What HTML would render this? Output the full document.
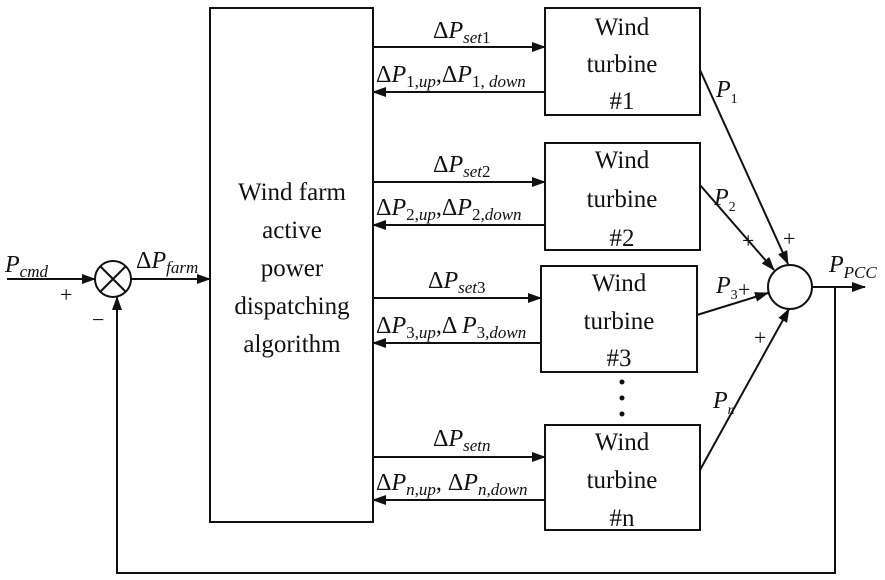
<!DOCTYPE html>
<html><head><style>body{margin:0;background:#fff}svg{display:block}
text{font-family:"Liberation Serif",serif;fill:#111}
.b{font-size:25px}.l{font-size:24px}.s{font-size:17px}.p{font-size:22px}</style></head><body>
<svg width="885" height="580" viewBox="0 0 885 580" xmlns="http://www.w3.org/2000/svg">
<defs><marker id="a" markerWidth="14" markerHeight="10" refX="13" refY="5" orient="auto" markerUnits="userSpaceOnUse"><path d="M0,0 L14,5 L0,10 Z" fill="#111"/></marker></defs>
<g stroke="#111" stroke-width="2" fill="none">
<rect x="210" y="8" width="163" height="514"/>
<rect x="545" y="8" width="155" height="107"/>
<rect x="545" y="143" width="155" height="107"/>
<rect x="541" y="266" width="156" height="106"/>
<rect x="545" y="425" width="155" height="105"/>
<circle cx="113" cy="279" r="18"/>
<line x1="100" y1="266" x2="126" y2="292"/><line x1="126" y1="266" x2="100" y2="292"/>
<circle cx="790" cy="287" r="22"/>
<line x1="7" y1="279" x2="95" y2="279" marker-end="url(#a)"/>
<line x1="131" y1="279" x2="210" y2="279" marker-end="url(#a)"/>
<polyline points="835,287 835,573 117,573 117,297" marker-end="url(#a)"/>
<line x1="812" y1="287" x2="865" y2="287" marker-end="url(#a)"/>
<line x1="373" y1="47" x2="545" y2="47" marker-end="url(#a)"/>
<line x1="545" y1="92" x2="373" y2="92" marker-end="url(#a)"/>
<line x1="373" y1="182" x2="545" y2="182" marker-end="url(#a)"/>
<line x1="545" y1="225" x2="373" y2="225" marker-end="url(#a)"/>
<line x1="373" y1="298" x2="541" y2="298" marker-end="url(#a)"/>
<line x1="541" y1="343" x2="373" y2="343" marker-end="url(#a)"/>
<line x1="373" y1="457" x2="545" y2="457" marker-end="url(#a)"/>
<line x1="545" y1="500" x2="373" y2="500" marker-end="url(#a)"/>
<line x1="700" y1="70" x2="788" y2="264" marker-end="url(#a)"/>
<line x1="700" y1="185" x2="774" y2="270" marker-end="url(#a)"/>
<line x1="697" y1="315" x2="768" y2="293" marker-end="url(#a)"/>
<line x1="700" y1="470" x2="789" y2="309" marker-end="url(#a)"/>
</g>
<g fill="#111"><circle cx="622" cy="382" r="2.5"/><circle cx="622" cy="398" r="2.5"/><circle cx="622" cy="414" r="2.5"/></g>
<g class="b" text-anchor="middle">
<text class="b" x="292" y="200">Wind farm</text><text class="b" x="292" y="238">active</text><text class="b" x="292" y="276">power</text><text class="b" x="292" y="314">dispatching</text><text class="b" x="292" y="352">algorithm</text>
<text class="b" x="622" y="35">Wind</text><text class="b" x="622" y="72">turbine</text><text class="b" x="622" y="109">#1</text>
<text class="b" x="622" y="168">Wind</text><text class="b" x="622" y="207">turbine</text><text class="b" x="622" y="246">#2</text>
<text class="b" x="619" y="291">Wind</text><text class="b" x="619" y="329">turbine</text><text class="b" x="619" y="366">#3</text>
<text class="b" x="622" y="450">Wind</text><text class="b" x="622" y="488">turbine</text><text class="b" x="622" y="526">#n</text>
</g>
<text class="l" x="5" y="272"><tspan font-style="italic">P</tspan><tspan class="s" dy="5" font-style="italic">cmd</tspan></text>
<text class="p" x="60" y="302">+</text>
<text class="p" x="92" y="327">−</text>
<text class="l" x="136" y="268">Δ<tspan font-style="italic">P</tspan><tspan class="s" dy="5" font-style="italic">farm</tspan></text>
<text class="l" x="433" y="38">Δ<tspan font-style="italic">P</tspan><tspan class="s" dy="5"><tspan font-style="italic">set</tspan>1</tspan></text>
<text class="l" x="376" y="82">Δ<tspan font-style="italic">P</tspan><tspan class="s" dy="5">1,<tspan font-style="italic">up</tspan></tspan><tspan dy="-5">,Δ</tspan><tspan font-style="italic">P</tspan><tspan class="s" dy="5">1, <tspan font-style="italic">down</tspan></tspan></text>
<text class="l" x="433" y="172">Δ<tspan font-style="italic">P</tspan><tspan class="s" dy="5"><tspan font-style="italic">set</tspan>2</tspan></text>
<text class="l" x="376" y="215">Δ<tspan font-style="italic">P</tspan><tspan class="s" dy="5">2,<tspan font-style="italic">up</tspan></tspan><tspan dy="-5">,Δ</tspan><tspan font-style="italic">P</tspan><tspan class="s" dy="5">2,<tspan font-style="italic">down</tspan></tspan></text>
<text class="l" x="428" y="288">Δ<tspan font-style="italic">P</tspan><tspan class="s" dy="5"><tspan font-style="italic">set</tspan>3</tspan></text>
<text class="l" x="376" y="333">Δ<tspan font-style="italic">P</tspan><tspan class="s" dy="5">3,<tspan font-style="italic">up</tspan></tspan><tspan dy="-5">,Δ </tspan><tspan font-style="italic">P</tspan><tspan class="s" dy="5">3,<tspan font-style="italic">down</tspan></tspan></text>
<text class="l" x="433" y="446">Δ<tspan font-style="italic">P</tspan><tspan class="s" dy="5" font-style="italic">setn</tspan></text>
<text class="l" x="376" y="490">Δ<tspan font-style="italic">P</tspan><tspan class="s" dy="5"><tspan font-style="italic">n</tspan>,<tspan font-style="italic">up</tspan></tspan><tspan dy="-5">, Δ</tspan><tspan font-style="italic">P</tspan><tspan class="s" dy="5" font-style="italic">n,down</tspan></text>
<text class="l" x="716" y="97" font-style="italic">P<tspan font-size="14" dy="6" font-style="normal">1</tspan></text>
<text class="l" x="714" y="205" font-style="italic">P<tspan font-size="14" dy="6" font-style="normal">2</tspan></text>
<text class="l" x="716" y="293" font-style="italic">P<tspan font-size="14" dy="6" font-style="normal">3</tspan></text>
<text class="l" x="713" y="408" font-style="italic">P<tspan font-size="14" dy="6">n</tspan></text>
<text class="l" x="829" y="272" font-style="italic">P<tspan class="s" dy="6">PCC</tspan></text>
<text class="p" x="742" y="248">+</text><text class="p" x="783" y="246">+</text><text class="p" x="738" y="297">+</text><text class="p" x="754" y="345">+</text>
</svg></body></html>
